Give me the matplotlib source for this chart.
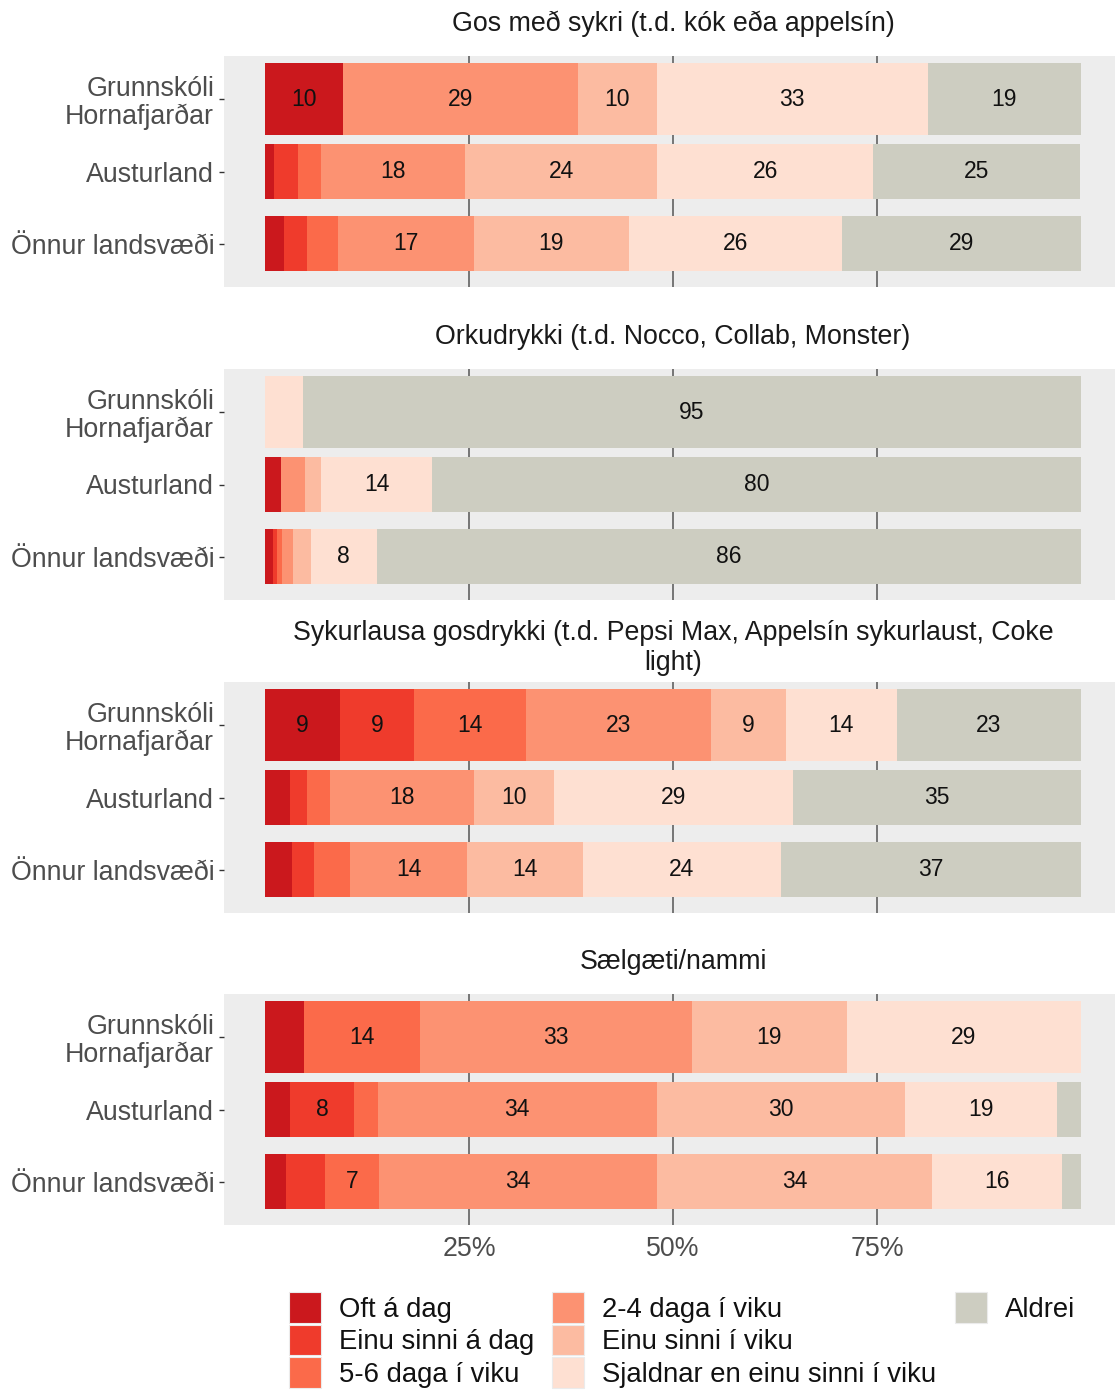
import matplotlib
matplotlib.use('Agg')
import matplotlib.pyplot as plt
from matplotlib.patches import Patch
from matplotlib.legend_handler import HandlerPatch
import numpy as np

plt.rcParams['font.family'] = ['Liberation Sans', 'DejaVu Sans']

# answer categories and their colours
categories = ['Oft á dag', 'Einu sinni á dag', '5-6 daga í viku', '2-4 daga í viku',
              'Einu sinni í viku', 'Sjaldnar en einu sinni í viku', 'Aldrei']
colors = ['#CB181D', '#EF3B2C', '#FB6A4A', '#FC9272', '#FCBBA1', '#FEE0D2', '#CDCDC1']

regions = ['Grunnskóli\nHornafjarðar', 'Austurland', 'Önnur landsvæði']

titles = ['Gos með sykri (t.d. kók eða appelsín)',
          'Orkudrykki (t.d. Nocco, Collab, Monster)',
          'Sykurlausa gosdrykki (t.d. Pepsi Max, Appelsín sykurlaust, Coke\nlight)',
          'Sælgæti/nammi']

# percentages, one row per region, columns follow categories
gos_sykur = [[9.6, 0, 0, 28.8, 9.6, 33.2, 18.8],
             [1.1, 2.9, 2.9, 17.6, 23.6, 26.4, 25.4],
             [2.3, 2.8, 3.9, 16.6, 19.0, 26.1, 29.3]]
orkudrykki = [[0, 0, 0, 0, 0, 4.6, 95.4],
              [2.0, 0, 0, 2.9, 2.0, 13.6, 79.5],
              [1.0, 0.5, 0.6, 1.3, 2.2, 8.1, 86.3]]
sykurlaust = [[9.2, 9.1, 13.7, 22.6, 9.2, 13.6, 22.6],
              [3.1, 2.0, 2.9, 17.6, 9.8, 29.3, 35.3],
              [3.3, 2.7, 4.4, 14.4, 14.2, 24.2, 36.8]]
saelgaeti = [[4.8, 0, 14.2, 33.3, 19.0, 28.7, 0],
             [3.1, 7.8, 2.9, 34.2, 30.4, 18.7, 2.9],
             [2.6, 4.8, 6.6, 34.0, 33.8, 15.9, 2.3]]
panels = [gos_sykur, orkudrykki, sykurlaust, saelgaeti]

W, H = 1115, 1392
fig = plt.figure(figsize=(W / 100, H / 100), dpi=100)

panel_tops = [56, 369, 682, 994]
panel_h = 231
bar_h = [1.0, 0.76, 0.76]
title_gap = [19, 19, 6, 19]
fs = 19.3

for i, (vals, title, top) in enumerate(zip(panels, titles, panel_tops)):
    ax = fig.add_axes([224 / W, 1 - (top + panel_h) / H, 891 / W, panel_h / H])
    ax.set_facecolor('#EDEDED')
    vals = np.array(vals, dtype=float)
    ypos = np.arange(len(regions))
    left = np.zeros(len(regions))
    for j, col in enumerate(colors):
        w = vals[:, j]
        ax.barh(ypos, w, left=left, height=bar_h, color=col, linewidth=0, zorder=2)
        for r in ypos:
            if w[r] >= 6:
                ax.text(left[r] + w[r] / 2, r, f'{w[r]:.0f}', ha='center', va='center',
                        fontsize=16.5, color='#111111', zorder=3)
        left += w

    ax.set_xlim(-5.02, 104.17)
    ax.set_ylim(2.6, -0.6)
    ax.set_yticks(ypos)
    ax.set_yticklabels(regions)
    for lbl in ax.get_yticklabels():
        lbl.set_linespacing(1.05)
    ax.set_xticks([25, 50, 75])
    if i == len(panels) - 1:
        ax.set_xticklabels(['25%', '50%', '75%'])
    else:
        ax.set_xticklabels([])
    ax.xaxis.grid(True, color='#555555', linewidth=1.1, zorder=1)
    ax.set_axisbelow(True)
    ax.tick_params(axis='x', length=0, labelsize=fs, labelcolor='#4D4D4D', pad=8)
    ax.tick_params(axis='y', length=3.6, width=1, color='#333333', labelsize=fs,
                   labelcolor='#4D4D4D', pad=3.5)
    for s in ax.spines.values():
        s.set_visible(False)
    ax.text(0.504, 1 + title_gap[i] / panel_h, title, transform=ax.transAxes,
            ha='center', va='bottom', fontsize=fs, color='#1A1A1A')

handles = [Patch(facecolor=c, edgecolor='#EBEBEB', linewidth=0.8) for c in colors]
labels = list(categories)
handles += [Patch(visible=False), Patch(visible=False)]
labels += ['', '']
fig.legend(handles, labels, ncol=3, loc='upper left', bbox_to_anchor=(289 / W, 1 - 1292 / H),
           frameon=False, fontsize=19.8, labelcolor='#111111', handlelength=1.16, handleheight=1.34,
           handletextpad=0.66, columnspacing=0.66, labelspacing=0.07, borderpad=0, borderaxespad=0,
           handler_map={Patch: HandlerPatch(ypad=0)})

fig.savefig('out.png', dpi=100)
